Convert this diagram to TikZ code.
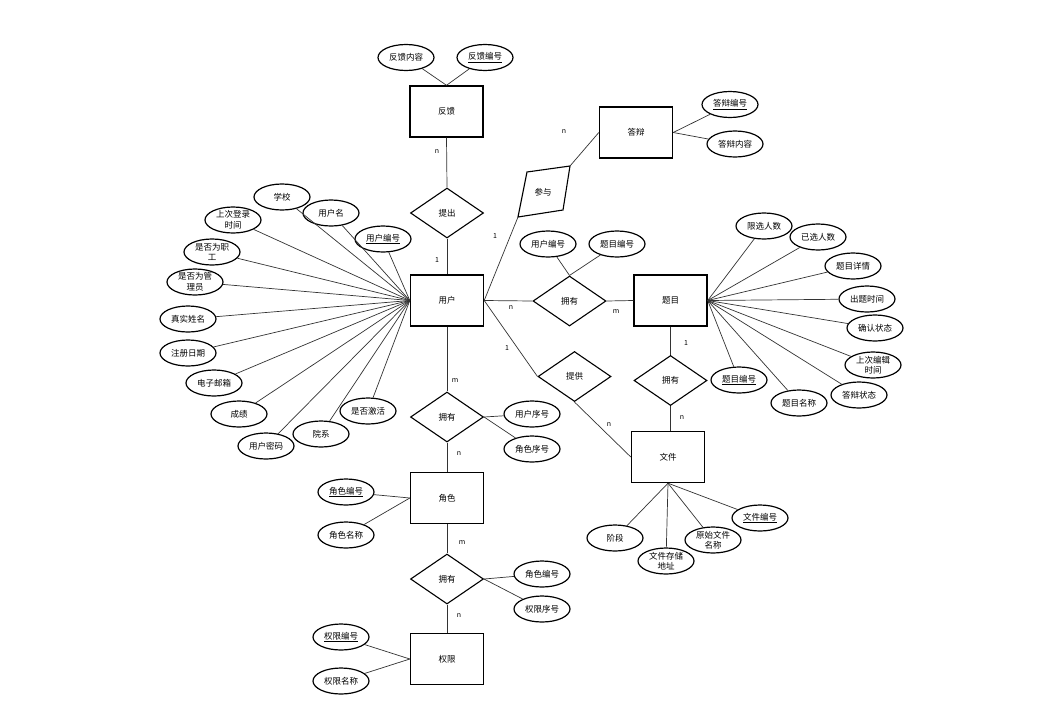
\documentclass[tikz,border=0pt]{standalone}
\usepackage{fontspec}
\setmainfont{Noto Sans CJK SC}
\usetikzlibrary{shapes.geometric}
\begin{document}
\begin{tikzpicture}[x=1pt,y=-1pt,
 ent/.style={draw,line width=1.4pt,minimum width=73pt,minimum height=51pt,inner sep=0pt,font=\fontsize{8.5}{9}\selectfont},
 rel/.style={draw,diamond,line width=1.1pt,minimum width=73pt,minimum height=50pt,inner sep=0pt,font=\fontsize{8.5}{9}\selectfont},
 attr/.style={draw,ellipse,line width=1.2pt,minimum width=56pt,minimum height=26pt,inner sep=0pt,align=center,font=\fontsize{8.5}{10.5}\selectfont},
 lbl/.style={font=\fontsize{7}{8}\selectfont,inner sep=0pt},
 con/.style={draw=black!80,line width=0.7pt}]
\useasboundingbox[fill=white] (0,0) rectangle (1062,715);

% entities
\node[ent] (fb) at (446.5,111.5) {反馈};
\node[ent] (db) at (636,132.5) {答辩};
\node[ent] (yh) at (447,300.5) {用户};
\node[ent] (tm) at (670.5,300.5) {题目};
\node[ent] (wj) at (668,457) {文件};
\node[ent] (js) at (447,498) {角色};
\node[ent] (qx) at (447,659) {权限};

% relationships
\node[rel] (tc) at (447,213) {提出};
\node[rel] (yy1) at (569.5,301) {拥有};
\node[rel] (tg) at (574.5,376.5) {提供};
\node[rel] (yy2) at (670.5,380.5) {拥有};
\node[rel] (yy3) at (447,417) {拥有};
\node[rel] (yy4) at (447,579) {拥有};
% skewed diamond
\coordinate (cyA) at (527,172);
\coordinate (cyB) at (570,166);
\coordinate (cyC) at (563,210);
\coordinate (cyD) at (518,217);
\draw[line width=1.1pt] (cyA) -- (cyB) -- (cyC) -- (cyD) -- cycle;
\node[font=\fontsize{8.5}{9}\selectfont] (cy) at (543,192) {参与};

% feedback attributes
\node[attr] (fb1) at (406,57.5) {反馈内容};
\node[attr] (fb2) at (485,57.5) {\underline{反馈编号}};
\draw[con] (fb1) -- (fb.north);
\draw[con] (fb2) -- (fb.north);

% defense attributes
\node[attr] (db1) at (730,104.5) {\underline{答辩编号}};
\node[attr] (db2) at (735,144) {答辩内容};
\draw[con] (db.east) -- (db1);
\draw[con] (db.east) -- (db2);

% user attributes
\node[attr] (u1) at (282,197) {学校};
\node[attr] (u2) at (331,213) {用户名};
\node[attr] (u3) at (383,239) {\underline{用户编号}};
\node[attr] (u4) at (233,220) {上次登录\\时间};
\node[attr] (u5) at (212,252) {是否为职\\工};
\node[attr] (u6) at (195,282) {是否为管\\理员};
\node[attr] (u7) at (188,319) {真实姓名};
\node[attr] (u8) at (188,353) {注册日期};
\node[attr] (u9) at (214,383) {电子邮箱};
\node[attr] (u10) at (239,414) {成绩};
\node[attr] (u11) at (266,446) {用户密码};
\node[attr] (u12) at (321,434) {院系};
\node[attr] (u13) at (368,411) {是否激活};
\foreach \i in {1,...,13} {\draw[con] (yh.west) -- (u\i);}

% topic attributes
\node[attr] (t1) at (764,226) {限选人数};
\node[attr] (t2) at (818,237) {已选人数};
\node[attr] (t3) at (853,266) {题目详情};
\node[attr] (t4) at (867,299) {出题时间};
\node[attr] (t5) at (875,328) {确认状态};
\node[attr] (t6) at (873,365) {上次编辑\\时间};
\node[attr] (t7) at (859,395) {答辩状态};
\node[attr] (t8) at (799,403) {题目名称};
\node[attr] (t9) at (739,380) {\underline{题目编号}};
\foreach \i in {1,...,9} {\draw[con] (tm.east) -- (t\i);}

% file attributes
\node[attr] (w1) at (615,538) {阶段};
\node[attr] (w2) at (666,561) {文件存储\\地址};
\node[attr] (w3) at (713,540) {原始文件\\名称};
\node[attr] (w4) at (760,518) {\underline{文件编号}};
\foreach \i in {1,...,4} {\draw[con] (wj.south) -- (w\i);}

% user-topic relation attributes
\node[attr] (r1) at (548,244) {用户编号};
\node[attr] (r2) at (617,244) {题目编号};
\draw[con] (yy1.north) -- (r1);
\draw[con] (yy1.north) -- (r2);

% user-role relation attributes
\node[attr] (s1) at (532,414) {用户序号};
\node[attr] (s2) at (532,449) {角色序号};
\draw[con] (yy3.east) -- (s1);
\draw[con] (yy3.east) -- (s2);

% role attributes
\node[attr] (j1) at (346,492) {\underline{角色编号}};
\node[attr] (j2) at (346,535) {角色名称};
\draw[con] (js.west) -- (j1);
\draw[con] (js.west) -- (j2);

% role-permission relation attributes
\node[attr] (p1) at (542,574) {角色编号};
\node[attr] (p2) at (542,609) {权限序号};
\draw[con] (yy4.east) -- (p1);
\draw[con] (yy4.east) -- (p2);

% permission attributes
\node[attr] (q1) at (341,637) {\underline{权限编号}};
\node[attr] (q2) at (341,681) {权限名称};
\draw[con] (qx.west) -- (q1);
\draw[con] (qx.west) -- (q2);

% relationship connectors
\draw[con] (fb.south) -- (tc.north);
\draw[con] (tc.south) -- (yh.north);
\draw[con] (yh.east) -- (cyD);
\draw[con] (cyB) -- (db.west);
\draw[con] (yh.east) -- (yy1.west);
\draw[con] (yy1.east) -- (tm.west);
\draw[con] (yh.east) -- (tg.west);
\draw[con] (tg.south) -- (wj.west);
\draw[con] (tm.south) -- (yy2.north);
\draw[con] (yy2.south) -- (wj.north -| yy2.south);
\draw[con] (yh.south) -- (yy3.north);
\draw[con] (yy3.south) -- (js.north);
\draw[con] (js.south) -- (yy4.north);
\draw[con] (yy4.south) -- (qx.north);

% cardinality labels
\node[lbl] (l1) at (437,152) {n};
\node[lbl] (l2) at (437,260) {1};
\node[lbl] (l3) at (564,132) {n};
\node[lbl] (l4) at (495,236) {1};
\node[lbl] (l5) at (511,308) {n};
\node[lbl] (l6) at (616,312) {m};
\node[lbl] (l7) at (507,348) {1};
\node[lbl] (l8) at (609,425) {n};
\node[lbl] (l9) at (686,343) {1};
\node[lbl] (l10) at (682,418) {n};
\node[lbl] (l11) at (455,381) {m};
\node[lbl] (l12) at (459,454) {n};
\node[lbl] (l13) at (462,543) {m};
\node[lbl] (l14) at (459,616) {n};
\end{tikzpicture}
\end{document}
